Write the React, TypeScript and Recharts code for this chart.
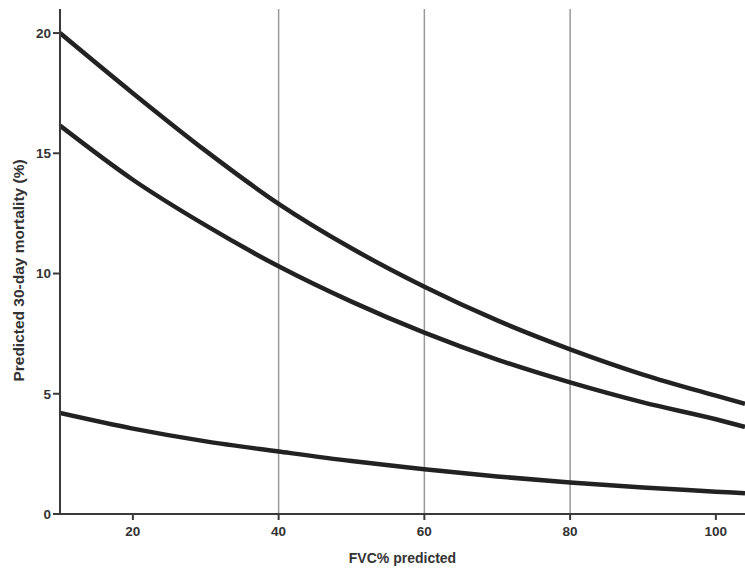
import { LineChart, Line, XAxis, YAxis, ReferenceLine } from "recharts";

const fvc = [10, 20, 30, 40, 50, 60, 70, 80, 90, 100, 104];

// Predicted 30-day mortality (%) for the three curves
const upperCurve = [20.0, 17.5, 15.1, 12.9, 11.05, 9.45, 8.05, 6.85, 5.8, 4.92, 4.58];
const middleCurve = [16.15, 13.9, 12.0, 10.3, 8.83, 7.54, 6.42, 5.47, 4.64, 3.94, 3.62];
const lowerCurve = [4.2, 3.55, 3.02, 2.6, 2.2, 1.86, 1.56, 1.31, 1.1, 0.93, 0.86];

const xTicks = [20, 40, 60, 80, 100];
const yTicks = [0, 5, 10, 15, 20];
const gridXs = [40, 60, 80];

const data = fvc.map((x, i) => ({
  fvc: x,
  upper: upperCurve[i],
  middle: middleCurve[i],
  lower: lowerCurve[i],
}));

const font = "'Liberation Sans', Arial, sans-serif";
const axisColor = "#3a3a3a";
const curveColor = "#222";

// y axis title, placed a little below the plot's middle like the original
const YTitle = (props: any) => {
  const vb = props.viewBox || {};
  const cx = 18;
  const cy = (vb.y ?? 0) + (vb.height ?? 0) / 2 + 9;
  return (
    <text
      x={cx}
      y={cy}
      transform={`rotate(-90, ${cx}, ${cy})`}
      textAnchor="middle"
      dominantBaseline="central"
      fill="#333"
      fontSize={15.5}
      fontWeight="bold"
      fontFamily={font}
    >
      Predicted 30-day mortality (%)
    </text>
  );
};

export default function App() {
  return (
    <div style={{ position: "absolute", left: 0, top: 0, fontFamily: font }}>
      <LineChart
        width={745}
        height={569}
        data={data}
        margin={{ top: 9, right: 0, bottom: 0, left: 0 }}
      >
        {gridXs.map((x) => (
          <ReferenceLine key={x} x={x} stroke="#999" strokeWidth={1.5} />
        ))}
        <XAxis
          dataKey="fvc"
          type="number"
          domain={[10, 104]}
          ticks={xTicks}
          allowDataOverflow
          height={55}
          stroke={axisColor}
          strokeWidth={2}
          tickSize={6}
          tickMargin={6}
          tick={{ fill: "#333", fontSize: 13.5, fontWeight: "bold", fontFamily: font }}
          label={{
            value: "FVC% predicted",
            position: "insideBottom",
            offset: 6,
            fill: "#333",
            fontSize: 14,
            fontWeight: "bold",
            fontFamily: font,
          }}
        />
        <YAxis
          type="number"
          domain={[0, 21]}
          ticks={yTicks}
          width={60}
          stroke={axisColor}
          strokeWidth={2}
          tickSize={7}
          tick={{ fill: "#333", fontSize: 13.5, fontWeight: "bold", fontFamily: font }}
          label={YTitle}
        />
        <Line
          type="monotone"
          dataKey="upper"
          stroke={curveColor}
          strokeWidth={4.5}
          dot={false}
          isAnimationActive={false}
        />
        <Line
          type="monotone"
          dataKey="middle"
          stroke={curveColor}
          strokeWidth={4.5}
          dot={false}
          isAnimationActive={false}
        />
        <Line
          type="monotone"
          dataKey="lower"
          stroke={curveColor}
          strokeWidth={4.5}
          dot={false}
          isAnimationActive={false}
        />
      </LineChart>
    </div>
  );
}
